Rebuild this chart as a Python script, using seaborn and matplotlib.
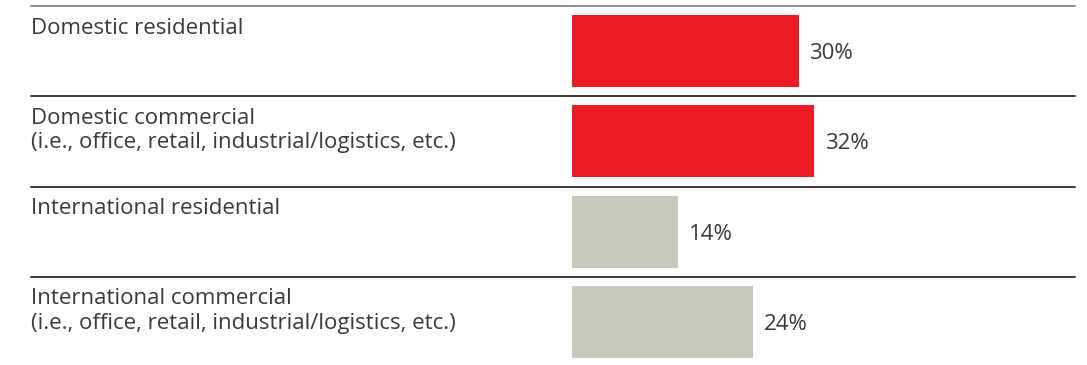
import matplotlib
matplotlib.use("Agg")
import matplotlib.pyplot as plt
import seaborn as sns
import pandas as pd

categories = [
    "Domestic residential",
    "Domestic commercial\n(i.e., office, retail, industrial/logistics, etc.)",
    "International residential",
    "International commercial\n(i.e., office, retail, industrial/logistics, etc.)",
]
values = [30, 32, 14, 24]
groups = ["Domestic", "Domestic", "International", "International"]
value_labels = ["30%", "32%", "14%", "24%"]

palette = {"Domestic": "#ED1C24", "International": "#C9C9BE"}
text_color = "#3a3a3a"

sns.set_theme(style="white")
plt.rcParams["font.family"] = ["Open Sans", "DejaVu Sans"]

df = pd.DataFrame({"category": categories, "value": values, "group": groups})

W, H = 1087, 365
fig = plt.figure(figsize=(W / 100, H / 100), dpi=100)

# axes spans the full row width; bars start at x=0 part way across
left_px, right_px = 31, 1075
top_px, bottom_px = 6, 367
zero_px = 572
px_per_unit = 7.55
row_px = (bottom_px - top_px) / len(categories)
ax = fig.add_axes([left_px / W, 1 - bottom_px / H,
                   (right_px - left_px) / W, (bottom_px - top_px) / H])

sns.barplot(data=df, y="category", x="value", hue="group", palette=palette,
            dodge=False, width=0.8, orient="h", legend=False, ax=ax,
            saturation=1, linewidth=0)

xmin = -(zero_px - left_px) / px_per_unit
xmax = (right_px - zero_px) / px_per_unit
ax.set_xlim(xmin, xmax)
ax.set_ylim(len(categories) - 0.5, -0.5)
ax.axis("off")

# row separators
for i in range(len(categories)):
    ax.axhline(i - 0.5, color="#8e8e8e" if i == 0 else "#3c3c3c",
               linewidth=1.4, clip_on=False)

fs = 16
first_baseline = 27.5 / row_px
line_step = 24.5 / row_px
for i, (cat, val, lab) in enumerate(zip(categories, values, value_labels)):
    for j, line in enumerate(cat.split("\n")):
        ax.text(xmin, i - 0.5 + first_baseline + j * line_step, line,
                ha="left", va="baseline", fontsize=fs, color=text_color)
    ax.text(val + 11 / px_per_unit, i, lab, ha="left", va="center_baseline",
            fontsize=fs, color=text_color)

fig.savefig("out.png", dpi=100)
